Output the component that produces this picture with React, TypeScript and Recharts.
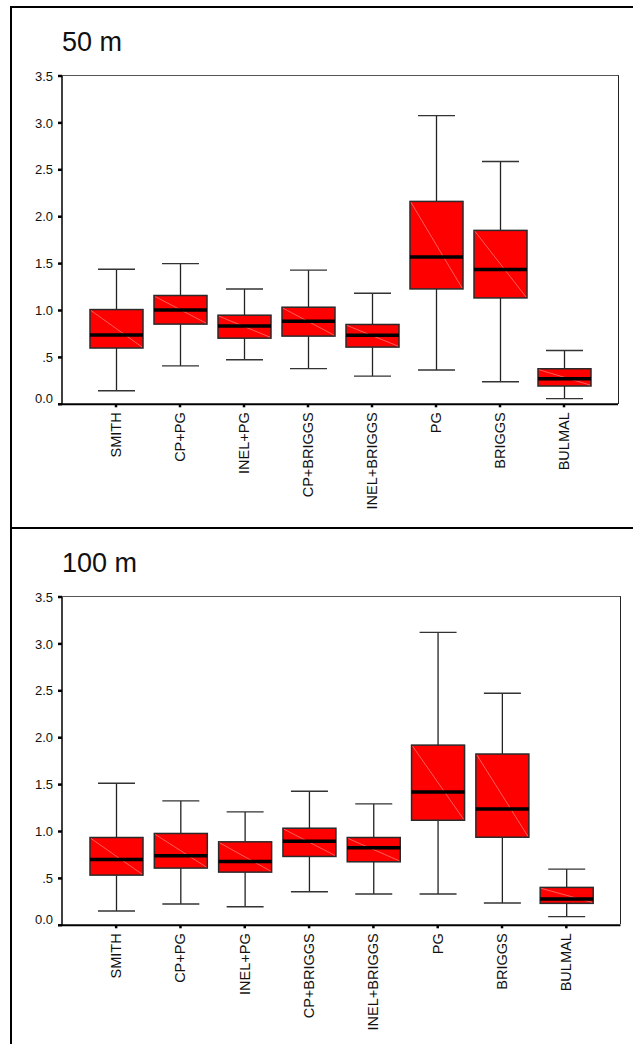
import React from 'react';
import { ComposedChart, Bar, XAxis, YAxis } from 'recharts';

const categories = ['SMITH', 'CP+PG', 'INEL+PG', 'CP+BRIGGS', 'INEL+BRIGGS', 'PG', 'BRIGGS', 'BULMAL'];

const min50 = [0.145, 0.41, 0.475, 0.38, 0.30, 0.365, 0.24, 0.06];
const q1_50 = [0.60, 0.855, 0.705, 0.727, 0.61, 1.23, 1.134, 0.195];
const med50 = [0.74, 1.005, 0.836, 0.886, 0.737, 1.57, 1.436, 0.272];
const q3_50 = [1.01, 1.16, 0.95, 1.035, 0.851, 2.163, 1.854, 0.379];
const max50 = [1.44, 1.50, 1.23, 1.43, 1.184, 3.078, 2.588, 0.574];

const min100 = [0.152, 0.227, 0.198, 0.358, 0.333, 0.333, 0.237, 0.092];
const q1_100 = [0.535, 0.61, 0.567, 0.734, 0.677, 1.12, 0.939, 0.234];
const med100 = [0.702, 0.741, 0.68, 0.897, 0.826, 1.421, 1.24, 0.28];
const q3_100 = [0.936, 0.979, 0.89, 1.035, 0.936, 1.921, 1.826, 0.404];
const max100 = [1.514, 1.326, 1.209, 1.429, 1.294, 3.123, 2.474, 0.599];

const yTicks = [0, 0.5, 1, 1.5, 2, 2.5, 3, 3.5];
const yTickLabels = ['0.0', '.5', '1.0', '1.5', '2.0', '2.5', '3.0', '3.5'];

const FONT = "'Liberation Sans', Arial, Helvetica, sans-serif";

const CHART_W = 633;
const CHART_H = 520;
const M_TOP = 76;
const M_BOTTOM = 5.7;
const Y_AXIS_W = 62;
const X_AXIS_H = 110;

function build(mins: number[], q1s: number[], meds: number[], q3s: number[], maxs: number[]) {
  return categories.map((name, i) => ({
    name,
    min: mins[i],
    q1: q1s[i],
    med: meds[i],
    q3: q3s[i],
    max: maxs[i],
    range: [mins[i], maxs[i]],
  }));
}

const data50 = build(min50, q1_50, med50, q3_50, max50);
const data100 = build(min100, q1_100, med100, q3_100, max100);

const BoxShape = (props: any) => {
  const { x, y, width, height, payload } = props;
  if (x == null || y == null) return null;
  const top = Math.min(y, y + height);
  const bot = Math.max(y, y + height);
  const { min, max, q1, med, q3 } = payload;
  const pix = (v: number) => top + ((bot - top) * (max - v)) / (max - min);
  const cx = x + width / 2;
  const capHalf = 18.5;
  const yMax = pix(max);
  const yMin = pix(min);
  const yQ3 = pix(q3);
  const yQ1 = pix(q1);
  const yMed = pix(med);
  const wc = '#222';
  return (
    <g>
      <line x1={cx} x2={cx} y1={yMax} y2={yQ3} stroke={wc} strokeWidth={1.3} />
      <line x1={cx} x2={cx} y1={yQ1} y2={yMin} stroke={wc} strokeWidth={1.3} />
      <line x1={cx - capHalf} x2={cx + capHalf} y1={yMax} y2={yMax} stroke="#333" strokeWidth={1.4} />
      <line x1={cx - capHalf} x2={cx + capHalf} y1={yMin} y2={yMin} stroke="#333" strokeWidth={1.4} />
      <rect x={x} y={yQ3} width={width} height={yQ1 - yQ3} fill="#ff0000" stroke="#2a2a2a" strokeWidth={1.5} />
      <line x1={x + 1} y1={yQ3 + 1} x2={x + width - 1} y2={yQ1 - 1} stroke="#ff9a9a" strokeWidth={0.6} />
      <line x1={x} x2={x + width} y1={yMed} y2={yMed} stroke="#000" strokeWidth={3.5} />
    </g>
  );
};

const YTick = (props: any) => {
  const { x, y, payload } = props;
  const label = yTickLabels[yTicks.indexOf(payload.value)] ?? String(payload.value);
  const dyShift = payload.value === 0 ? -6 : 0;
  return (
    <text x={x} y={y + dyShift} dy="0.355em" textAnchor="end" fontSize={13} fontFamily={FONT} fill="#111">
      {label}
    </text>
  );
};

const XTick = (props: any) => {
  const { x, y, payload } = props;
  return (
    <g transform={`translate(${x + 5},${y}) rotate(-90)`}>
      <text x={0} y={0} textAnchor="end" fontSize={14.5} fontFamily={FONT} fill="#111">
        {payload.value}
      </text>
    </g>
  );
};

function Panel({ data, title, top, rightMargin }: { data: any[]; title: string; top: number; rightMargin: number }) {
  const plotW = CHART_W - rightMargin - Y_AXIS_W;
  const plotH = CHART_H - M_TOP - M_BOTTOM - X_AXIS_H;
  return (
    <div style={{ position: 'absolute', left: 0, top, width: CHART_W, height: CHART_H }}>
      <div
        style={{
          position: 'absolute',
          left: 62,
          top: 29,
          fontSize: 27,
          lineHeight: '27px',
          fontFamily: FONT,
          color: '#111',
          whiteSpace: 'nowrap',
        }}
      >
        {title}
      </div>
      <div
        style={{
          position: 'absolute',
          left: Y_AXIS_W,
          top: M_TOP - 0.75,
          width: plotW + 0.75,
          height: plotH,
          borderTop: '1.5px solid #555',
          borderRight: '1.5px solid #222',
          boxSizing: 'border-box',
        }}
      />
      <ComposedChart
        width={CHART_W}
        height={CHART_H}
        data={data}
        margin={{ top: M_TOP, right: rightMargin, left: 0, bottom: M_BOTTOM }}
        style={{ position: 'absolute', left: 0, top: 0 }}
      >
        <XAxis
          dataKey="name"
          type="category"
          interval={0}
          padding={{ left: 22, right: 22 }}
          height={X_AXIS_H}
          tickSize={3}
          tickMargin={5}
          tickLine={{ stroke: '#000', strokeWidth: 2.5 }}
          axisLine={{ stroke: '#000', strokeWidth: 2 }}
          tick={<XTick />}
        />
        <YAxis
          type="number"
          domain={[0, 3.5]}
          ticks={yTicks}
          width={Y_AXIS_W}
          tickSize={4}
          tickMargin={5}
          interval={0}
          tickLine={{ stroke: '#000', strokeWidth: 2.5 }}
          axisLine={{ stroke: '#000', strokeWidth: 1.5 }}
          tick={<YTick />}
        />
        <Bar dataKey="range" barSize={53} shape={<BoxShape />} isAnimationActive={false} />
      </ComposedChart>
    </div>
  );
}

export default function App() {
  return (
    <div
      style={{
        position: 'absolute',
        left: 0,
        top: 0,
        width: 633,
        height: 1044,
        overflow: 'hidden',
        background: '#fff',
      }}
    >
      <div
        style={{
          position: 'absolute',
          left: 10,
          top: 6,
          width: 700,
          height: 523,
          border: '2px solid #000',
          boxSizing: 'border-box',
        }}
      />
      <div
        style={{
          position: 'absolute',
          left: 10,
          top: 527,
          width: 700,
          height: 600,
          border: '2px solid #000',
          boxSizing: 'border-box',
        }}
      />
      <Panel data={data50} title="50 m" top={0} rightMargin={15} />
      <Panel data={data100} title="100 m" top={520.5} rightMargin={12.5} />
    </div>
  );
}
